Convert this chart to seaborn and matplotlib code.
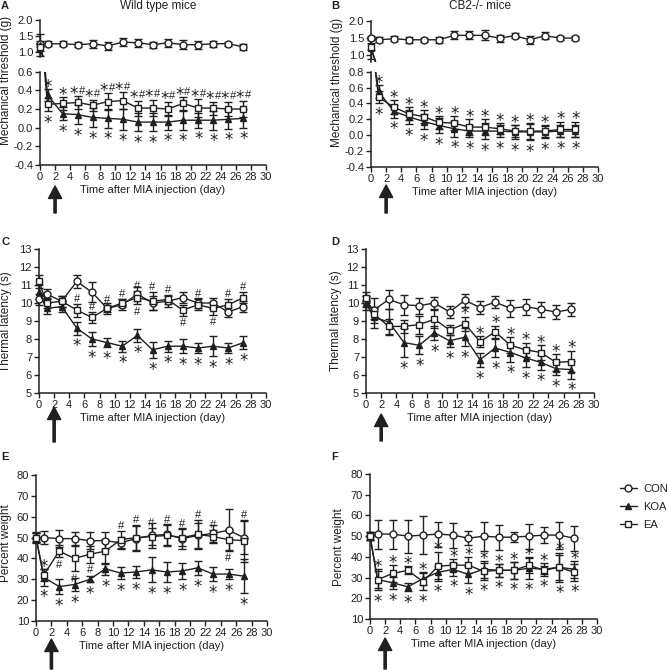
import matplotlib
matplotlib.use("Agg")
import numpy as np
import pandas as pd
import matplotlib.pyplot as plt
import matplotlib.patches as mpatches
from matplotlib.ticker import FormatStrFormatter
import seaborn as sns

sns.set_theme(style="ticks")
plt.rcParams["font.family"] = ["Liberation Sans", "DejaVu Sans"]

INK = "#231f20"
W, H = 667, 670

days = [0, 1, 3, 5, 7, 9, 11, 13, 15, 17, 19, 21, 23, 25, 27]
groups = ["CON", "KOA", "EA"]

# --------------------------------
# A: mechanical threshold, wild type
# --------------------------------
a_con = [1.25, 1.25, 1.25, 1.22, 1.25, 1.18, 1.30, 1.28, 1.22, 1.28, 1.22, 1.22, 1.25, 1.25, 1.15]
a_con_e = [0.10, 0.08, 0.08, 0.07, 0.13, 0.13, 0.13, 0.12, 0.10, 0.12, 0.15, 0.13, 0.10, 0.07, 0.10]
a_koa = [1.20, 0.35, 0.15, 0.14, 0.11, 0.10, 0.09, 0.06, 0.06, 0.06, 0.08, 0.08, 0.08, 0.09, 0.10]
a_koa_e = [0.35, 0.06, 0.07, 0.10, 0.10, 0.10, 0.11, 0.10, 0.10, 0.08, 0.10, 0.08, 0.10, 0.10, 0.10]
a_ea = [1.15, 0.25, 0.26, 0.27, 0.24, 0.28, 0.29, 0.21, 0.21, 0.20, 0.26, 0.21, 0.21, 0.20, 0.20]
a_ea_e = [0.12, 0.07, 0.07, 0.07, 0.06, 0.09, 0.09, 0.08, 0.09, 0.08, 0.07, 0.10, 0.07, 0.08, 0.09]
a_up = ["", "*", "*"] + ["*#"] * 12
a_dn = [""] + ["*"] * 14

# --------------------------------
# B: mechanical threshold, CB2-/-
# --------------------------------
b_con = [1.50, 1.45, 1.48, 1.45, 1.45, 1.45, 1.58, 1.58, 1.58, 1.50, 1.57, 1.45, 1.57, 1.50, 1.50]
b_con_e = [0.05, 0.07, 0.07, 0.08, 0.05, 0.08, 0.12, 0.12, 0.15, 0.10, 0.08, 0.12, 0.10, 0.07, 0.07]
b_koa = [1.20, 0.55, 0.30, 0.23, 0.17, 0.12, 0.08, 0.05, 0.05, 0.05, 0.04, 0.04, 0.04, 0.05, 0.05]
b_koa_e = [0.30, 0.08, 0.08, 0.09, 0.10, 0.10, 0.10, 0.08, 0.10, 0.08, 0.09, 0.10, 0.08, 0.08, 0.08]
b_ea = [1.25, 0.48, 0.35, 0.27, 0.23, 0.16, 0.15, 0.10, 0.10, 0.08, 0.05, 0.05, 0.05, 0.07, 0.07]
b_ea_e = [0.10, 0.08, 0.09, 0.08, 0.08, 0.08, 0.09, 0.10, 0.10, 0.07, 0.08, 0.10, 0.08, 0.10, 0.10]
b_up = [""] + ["*"] * 14
b_dn = [""] + ["*"] * 14

# --------------------------------
# C: thermal latency, wild type
# --------------------------------
c_con = [10.2, 10.5, 10.1, 11.2, 10.6, 9.7, 9.9, 10.5, 10.0, 10.1, 10.3, 10.0, 10.0, 9.5, 9.8]
c_con_e = [0.3, 0.3, 0.3, 0.35, 0.55, 0.3, 0.3, 0.4, 0.4, 0.3, 0.3, 0.3, 0.3, 0.3, 0.3]
c_koa = [10.6, 9.7, 9.8, 8.6, 8.0, 7.8, 7.6, 8.2, 7.4, 7.6, 7.6, 7.5, 7.6, 7.5, 7.8]
c_koa_e = [0.4, 0.3, 0.3, 0.35, 0.4, 0.25, 0.3, 0.35, 0.45, 0.3, 0.4, 0.3, 0.55, 0.3, 0.35]
c_ea = [11.2, 10.0, 10.1, 9.6, 9.2, 9.7, 10.0, 10.3, 10.1, 10.2, 9.6, 9.9, 9.7, 9.9, 10.3]
c_ea_e = [0.35, 0.3, 0.3, 0.35, 0.3, 0.2, 0.2, 0.35, 0.5, 0.25, 0.3, 0.3, 0.35, 0.3, 0.3]
c_up = ["", "", "", "#", "#", "#", "#", "#", "#", "#", "", "#", "", "#", "#"]
c_dn = ["", "", ""] + ["*"] * 12
c_ea_dn = ["", "", "", "", "", "", "", "#", "", "", "#", "", "#", "", ""]

# --------------------------------
# D: thermal latency, CB2-/-
# --------------------------------
d_con = [10.1, 9.6, 10.2, 9.9, 9.85, 10.0, 9.5, 10.15, 9.75, 10.05, 9.7, 9.8, 9.65, 9.5, 9.65]
d_con_e = [0.3, 0.7, 0.55, 0.55, 0.45, 0.35, 0.35, 0.35, 0.35, 0.35, 0.45, 0.45, 0.4, 0.4, 0.35]
d_koa = [10.0, 9.2, 8.95, 7.8, 7.65, 8.35, 7.9, 8.1, 6.85, 7.5, 7.25, 6.95, 6.7, 6.35, 6.3]
d_koa_e = [0.4, 0.6, 0.7, 0.8, 0.5, 0.4, 0.35, 0.5, 0.4, 0.5, 0.5, 0.5, 0.4, 0.35, 0.5]
d_ea = [10.3, 9.4, 8.7, 8.7, 8.8, 9.1, 8.5, 8.85, 7.85, 8.4, 7.65, 7.4, 7.25, 6.7, 6.75]
d_ea_e = [0.3, 0.3, 0.4, 0.35, 0.5, 0.5, 0.3, 0.4, 0.3, 0.35, 0.45, 0.4, 0.4, 0.45, 0.6]
d_up = [""] * 7 + ["*"] * 8
d_dn = ["", "", ""] + ["*"] * 12

# --------------------------------
# E: percent weight, wild type
# --------------------------------
e_con = [50, 50, 49.5, 49.5, 48.5, 48.5, 47.5, 49.5, 51, 51.5, 49.5, 51, 52, 53.5, 50]
e_con_e = [2, 3, 4, 3, 4, 4, 3, 6, 6, 5, 5, 6, 4, 10, 8]
e_koa = [50, 31, 26.5, 27.5, 30, 35, 33, 33.5, 34.5, 33.5, 34, 35.5, 32.5, 32.5, 31.5]
e_koa_e = [2, 4, 3.5, 3, 1.5, 3, 3, 3, 6, 5, 4, 3.5, 3.5, 2.5, 8]
e_ea = [50, 32, 43.5, 40, 42, 43.5, 49, 50, 50.5, 51, 50, 51.5, 50.5, 49, 48.5]
e_ea_e = [2.5, 3, 3, 6, 4, 6, 4, 6, 4, 5, 4, 7, 3, 5, 10]
e_up = ["", "*", "", "", "", "", "#", "#", "#", "#", "#", "#", "#", "", "#"]
e_dn = [""] + ["*"] * 14
e_ea_dn = ["", "", "#", "#", "#", "#", "", "", "", "", "", "", "", "#", ""]

# --------------------------------
# F: percent weight, CB2-/-
# --------------------------------
f_con = [50, 51, 51, 50, 50.5, 51, 50.5, 49, 50, 49.5, 49.5, 50, 50.5, 50.5, 49]
f_con_e = [2, 7, 7, 8, 9, 6, 6, 3.5, 7, 6, 2.5, 6, 4, 6.5, 6]
f_koa = [50, 29, 27.5, 25.5, 29.5, 32.5, 34, 31.5, 34, 33.5, 33.5, 34.5, 34, 35, 34]
f_koa_e = [2, 4, 3, 2, 3, 3, 3, 4, 4, 3, 4, 5, 3, 7, 4]
f_ea = [50, 29, 32, 33.5, 28, 35.5, 36, 36, 33, 33.5, 33.5, 36, 33.5, 35, 32.5]
f_ea_e = [2, 5, 4, 2, 4, 7, 3, 4, 4, 3, 4, 4, 2, 6, 4]
f_up = [""] + ["*"] * 14
f_dn = [""] + ["*"] * 14

MARK = {"CON": "o", "KOA": "^", "EA": "s"}
SIZE = {"CON": 5, "KOA": 4.2, "EA": 5}
FACE = {"CON": "white", "KOA": INK, "EA": "white"}
FS = 8


def frame(con, con_e, koa, koa_e, ea, ea_e):
    rows = []
    for g, m, e in [("CON", con, con_e), ("KOA", koa, koa_e), ("EA", ea, ea_e)]:
        for d, mm, ee in zip(days, m, e):
            rows.append({"day": d, "group": g, "mean": mm, "err": ee})
    return pd.DataFrame(rows)


def box(l, t, r, b):
    return [l / W, 1 - b / H, (r - l) / W, (b - t) / H]


def style_axis(ax, ylim, yticks, fmt=None, bottom=True):
    ax.set_xlim(0, 30)
    ax.set_ylim(*ylim)
    ax.set_yticks(yticks)
    ax.set_xticks(range(0, 31, 2))
    if fmt:
        ax.yaxis.set_major_formatter(FormatStrFormatter(fmt))
    sns.despine(ax=ax)
    for s in ["left", "bottom"]:
        ax.spines[s].set_linewidth(1.1)
        ax.spines[s].set_color(INK)
    ax.tick_params(length=3.5, width=1.0, color=INK, labelsize=FS,
                   labelcolor=INK, pad=1.5)
    if not bottom:
        ax.spines["bottom"].set_visible(False)
        ax.tick_params(bottom=False, labelbottom=False)
    ax.set_xlabel("")
    ax.set_ylabel("")


def draw(ax, df):
    for g in groups:
        sub = df[df["group"] == g]
        ax.errorbar(sub["day"], sub["mean"], yerr=sub["err"], fmt="none",
                    ecolor=INK, elinewidth=1.0, capsize=3.2, capthick=1.0, zorder=2)
    for g in groups:
        sub = df[df["group"] == g]
        sns.lineplot(data=sub, x="day", y="mean", ax=ax, color=INK, lw=1.0,
                     marker=MARK[g], markersize=SIZE[g], markerfacecolor=FACE[g],
                     markeredgecolor=INK, markeredgewidth=1.0, errorbar=None,
                     label=g, legend=False, zorder=3)
    # keep x-edge markers whole, but clip vertically (broken axes)
    rect = mpatches.Rectangle((-0.04, 0), 1.08, 1, transform=ax.transAxes)
    for art in ax.lines + ax.collections:
        art.set_clip_path(rect)


def marks(ax, df, texts, side, who="pair"):
    for d, t in zip(days, texts):
        if not t:
            continue
        sub = df[df["day"] == d]
        sub = sub[sub["group"] != "CON"] if who == "pair" else sub[sub["group"] == who]
        if side == "up":
            y = (sub["mean"] + sub["err"]).max()
        else:
            y = (sub["mean"] - sub["err"]).min()
        shifts = [0] if len(t) == 1 else [-2.8, 3.2]
        for ch, s in zip(t, shifts):
            star = ch == "*"
            if side == "up":
                off, va = (-2.0 if star else 1.6), "baseline"
            else:
                off, va = -2.0, "top"
            ax.annotate(ch, xy=(d, y), xytext=(s, off), textcoords="offset points",
                        ha="center", va=va, color=INK,
                        family="DejaVu Sans" if star else "Liberation Sans",
                        fontsize=12 if star else 8, annotation_clip=False)


def arrow(ax, tip, tail):
    ax.annotate("", xy=(2, 1 - tip / H), xytext=(2, 1 - tail / H),
                xycoords=("data", "figure fraction"),
                textcoords=("data", "figure fraction"),
                arrowprops=dict(width=1.6, headwidth=9.5, headlength=9, color=INK),
                annotation_clip=False)


fig = plt.figure(figsize=(W / 100, H / 100), dpi=100)
xlab = "Time after MIA injection (day)"

# ---- A ----
df_a = frame(a_con, a_con_e, a_koa, a_koa_e, a_ea, a_ea_e)
ax_a1 = fig.add_axes(box(40, 20, 266, 57))
ax_a2 = fig.add_axes(box(40, 71.7, 266, 165))
draw(ax_a1, df_a)
draw(ax_a2, df_a)
style_axis(ax_a1, (0.83, 2.0), [1.0, 1.5, 2.0], "%.1f", bottom=False)
style_axis(ax_a2, (-0.4, 0.6), np.arange(-0.4, 0.61, 0.2), "%.1f")
marks(ax_a2, df_a, a_up, "up")
marks(ax_a2, df_a, a_dn, "down")
ax_a2.set_xlabel(xlab, fontsize=FS, color=INK, labelpad=2.5)
arrow(ax_a2, 186, 213)

# ---- B ----
df_b = frame(b_con, b_con_e, b_koa, b_koa_e, b_ea, b_ea_e)
ax_b1 = fig.add_axes(box(371, 21, 598, 62))
ax_b2 = fig.add_axes(box(371, 71.7, 598, 166.7))
draw(ax_b1, df_b)
draw(ax_b2, df_b)
style_axis(ax_b1, (0.8, 2.0), [1.0, 1.5, 2.0], "%.1f", bottom=False)
style_axis(ax_b2, (-0.4, 0.8), np.arange(-0.4, 0.81, 0.2), "%.1f")
marks(ax_b2, df_b, b_up, "up")
marks(ax_b2, df_b, b_dn, "down")
ax_b2.set_xlabel(xlab, fontsize=FS, color=INK, labelpad=2.5)
arrow(ax_b2, 185, 213)

# ---- C ----
df_c = frame(c_con, c_con_e, c_koa, c_koa_e, c_ea, c_ea_e)
ax_c = fig.add_axes(box(39, 249, 266, 393))
draw(ax_c, df_c)
style_axis(ax_c, (5, 13), range(5, 14))
marks(ax_c, df_c, c_up, "up")
marks(ax_c, df_c, c_dn, "down")
marks(ax_c, df_c, c_ea_dn, "down", who="EA")
ax_c.set_xlabel(xlab, fontsize=FS, color=INK, labelpad=2.5)
arrow(ax_c, 407, 442)

# ---- D ----
df_d = frame(d_con, d_con_e, d_koa, d_koa_e, d_ea, d_ea_e)
ax_d = fig.add_axes(box(366, 249, 594, 393))
draw(ax_d, df_d)
style_axis(ax_d, (5, 13), range(5, 14))
marks(ax_d, df_d, d_up, "up")
marks(ax_d, df_d, d_dn, "down")
ax_d.set_xlabel(xlab, fontsize=FS, color=INK, labelpad=2.5)
arrow(ax_d, 414, 441)

# ---- E ----
df_e = frame(e_con, e_con_e, e_koa, e_koa_e, e_ea, e_ea_e)
ax_e = fig.add_axes(box(36, 475, 267, 621))
draw(ax_e, df_e)
style_axis(ax_e, (10, 80), range(10, 81, 10))
marks(ax_e, df_e, e_up, "up")
marks(ax_e, df_e, e_dn, "down")
marks(ax_e, df_e, e_ea_dn, "down", who="EA")
ax_e.set_xlabel(xlab, fontsize=FS, color=INK, labelpad=2.5)
arrow(ax_e, 639, 669)

# ---- F ----
df_f = frame(f_con, f_con_e, f_koa, f_koa_e, f_ea, f_ea_e)
ax_f = fig.add_axes(box(370, 474, 597, 619))
draw(ax_f, df_f)
style_axis(ax_f, (10, 80), range(10, 81, 10))
marks(ax_f, df_f, f_up, "up")
marks(ax_f, df_f, f_dn, "down")
ax_f.set_xlabel(xlab, fontsize=FS, color=INK, labelpad=2.5)
arrow(ax_f, 638, 669)

# y labels, titles, panel letters
for x, y, t in [(6, 80, "Mechanical threshold (g)"), (337, 82, "Mechanical threshold (g)"),
                (6, 322, "Thermal latency (s)"), (336, 321, "Thermal latency (s)"),
                (6, 543, "Percent weight"), (339, 547, "Percent weight")]:
    fig.text(x / W, 1 - y / H, t, rotation=90, ha="center", va="center",
             fontsize=8.5, color=INK)

fig.text(158 / W, 1 - 6 / H, "Wild type mice", ha="center", va="center", fontsize=8.5, color=INK)
fig.text(480 / W, 1 - 6 / H, "CB2-/- mice", ha="center", va="center", fontsize=8.5, color=INK)

for x, y, t in [(5, 6, "A"), (335, 6, "B"), (5, 242, "C"), (335, 242, "D"),
                (5, 457, "E"), (335, 457, "F")]:
    fig.text(x / W, 1 - y / H, t, ha="center", va="center", fontsize=8,
             fontweight="bold", color=INK)

handles, labels = ax_f.get_legend_handles_labels()
fig.legend(handles, labels, loc="upper left", bbox_to_anchor=(610 / W, 1 - 474 / H),
           frameon=False, fontsize=8, handlelength=1.5, handletextpad=0.6,
           labelspacing=0.7, labelcolor=INK)

fig.savefig("out.png", dpi=100)
